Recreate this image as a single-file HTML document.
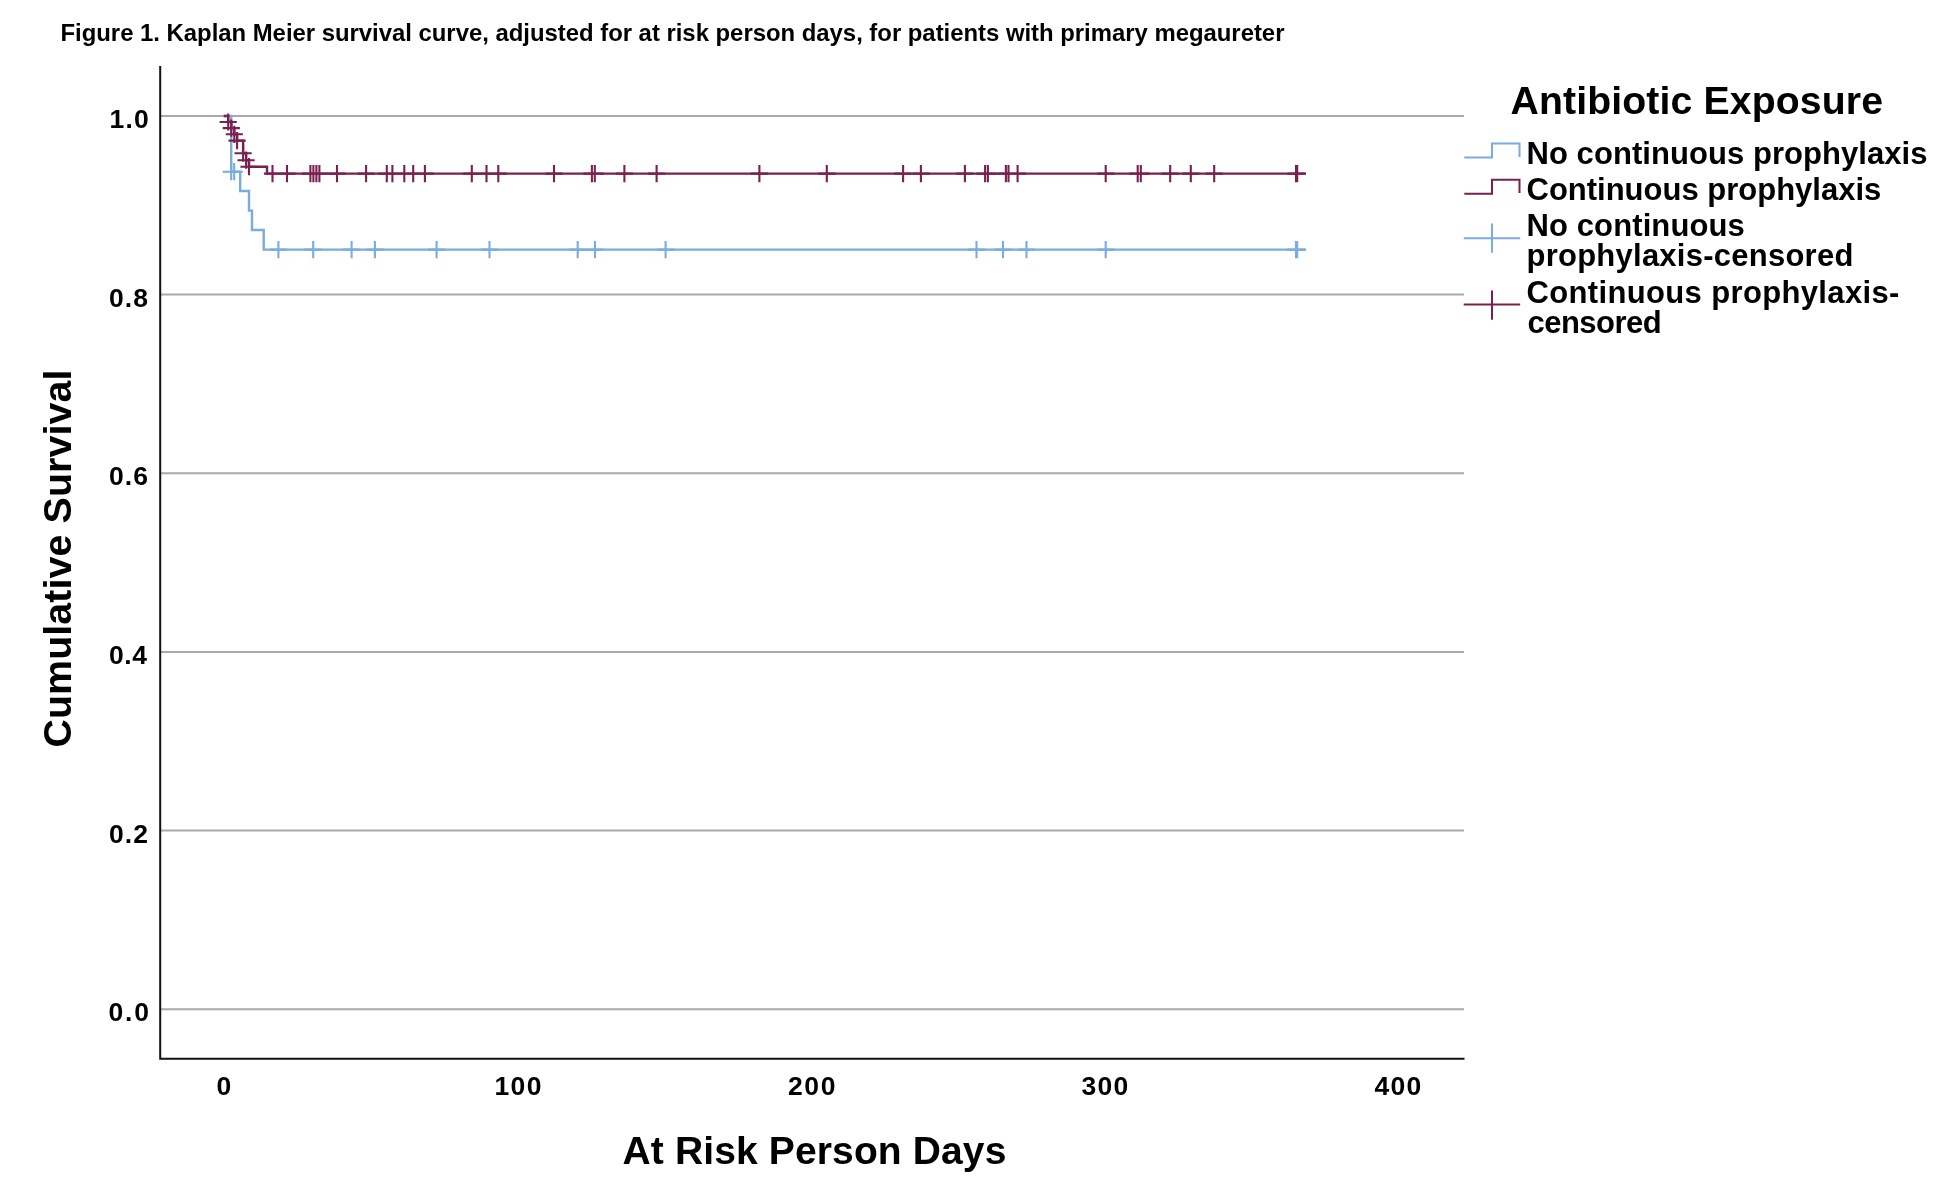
<!DOCTYPE html>
<html><head><meta charset="utf-8"><style>
html,body{margin:0;padding:0;background:#fff;}
body{width:1940px;height:1202px;overflow:hidden;}
svg{display:block;will-change:transform;}
text{font-family:"Liberation Sans",sans-serif;font-weight:bold;fill:#000;}
</style></head><body>
<svg width="1940" height="1202" viewBox="0 0 1940 1202">
<rect width="1940" height="1202" fill="#fff"/>
<g stroke="#a9a9a9" stroke-width="2"><line x1="161" y1="115.9" x2="1464" y2="115.9"/><line x1="161" y1="294.6" x2="1464" y2="294.6"/><line x1="161" y1="473.2" x2="1464" y2="473.2"/><line x1="161" y1="651.9" x2="1464" y2="651.9"/><line x1="161" y1="830.5" x2="1464" y2="830.5"/><line x1="161" y1="1009.2" x2="1464" y2="1009.2"/></g>
<path d="M160.2,66V1058.8H1464.5" fill="none" stroke="#111" stroke-width="2"/>
<g fill="none" stroke-linecap="butt">
<path d="M223.7,116H231.2V171.7H240.2V191H249V210.6H252V230H263.7V249.6H1305.7" stroke="#79acdf" stroke-width="2.4"/>
<path d="M222.6,171.7H239.8M231.2,163.1V180.3M225.6,171.7H242.8M234.2,163.1V180.3M269.8,249.6H287.0M278.4,241.0V258.2M304.6,249.6H321.8M313.2,241.0V258.2M343.0,249.6H360.2M351.6,241.0V258.2M366.3,249.6H383.5M374.9,241.0V258.2M428.0,249.6H445.2M436.6,241.0V258.2M480.9,249.6H498.1M489.5,241.0V258.2M569.1,249.6H586.3M577.7,241.0V258.2M586.4,249.6H603.6M595.0,241.0V258.2M657.0,249.6H674.2M665.6,241.0V258.2M967.9,249.6H985.1M976.5,241.0V258.2M994.4,249.6H1011.6M1003.0,241.0V258.2M1017.9,249.6H1035.1M1026.5,241.0V258.2M1097.1,249.6H1114.3M1105.7,241.0V258.2M1287.4,249.6H1304.6M1296.0,241.0V258.2M1288.6,249.6H1305.8M1297.2,241.0V258.2" stroke="#79acdf" stroke-width="2.1"/>
<path d="M223.7,116H228.2V122H231.3V128.1H234.3V134.3H237.1V140.6H243.1V153.2H246.1V160.2H249V166.7H267V173.6H1305.7" stroke="#7a2051" stroke-width="2.4"/>
<path d="M219.6,122.0H236.8M228.2,113.4V130.6M222.7,128.1H239.9M231.3,119.5V136.7M225.7,134.3H242.9M234.3,125.7V142.9M228.5,140.6H245.7M237.1,132.0V149.2M234.5,153.2H251.7M243.1,144.6V161.8M237.5,160.2H254.7M246.1,151.6V168.8M240.4,166.7H257.6M249.0,158.1V175.3M263.9,173.6H281.1M272.5,165.0V182.2M278.4,173.6H295.6M287.0,165.0V182.2M301.8,173.6H319.0M310.4,165.0V182.2M304.8,173.6H322.0M313.4,165.0V182.2M307.8,173.6H325.0M316.4,165.0V182.2M310.8,173.6H328.0M319.4,165.0V182.2M328.4,173.6H345.6M337.0,165.0V182.2M357.5,173.6H374.7M366.1,165.0V182.2M378.2,173.6H395.4M386.8,165.0V182.2M383.8,173.6H401.0M392.4,165.0V182.2M395.7,173.6H412.9M404.3,165.0V182.2M404.6,173.6H421.8M413.2,165.0V182.2M416.3,173.6H433.5M424.9,165.0V182.2M463.2,173.6H480.4M471.8,165.0V182.2M477.9,173.6H495.1M486.5,165.0V182.2M489.7,173.6H506.9M498.3,165.0V182.2M545.4,173.6H562.6M554.0,165.0V182.2M583.3,173.6H600.5M591.9,165.0V182.2M586.2,173.6H603.4M594.8,165.0V182.2M615.8,173.6H633.0M624.4,165.0V182.2M648.0,173.6H665.2M656.6,165.0V182.2M750.8,173.6H768.0M759.4,165.0V182.2M818.2,173.6H835.4M826.8,165.0V182.2M894.5,173.6H911.7M903.1,165.0V182.2M912.3,173.6H929.5M920.9,165.0V182.2M956.3,173.6H973.5M964.9,165.0V182.2M976.5,173.6H993.7M985.1,165.0V182.2M979.3,173.6H996.5M987.9,165.0V182.2M997.3,173.6H1014.5M1005.9,165.0V182.2M999.9,173.6H1017.1M1008.5,165.0V182.2M1009.0,173.6H1026.2M1017.6,165.0V182.2M1097.1,173.6H1114.3M1105.7,165.0V182.2M1129.1,173.6H1146.3M1137.7,165.0V182.2M1132.2,173.6H1149.4M1140.8,165.0V182.2M1161.6,173.6H1178.8M1170.2,165.0V182.2M1182.2,173.6H1199.4M1190.8,165.0V182.2M1205.6,173.6H1222.8M1214.2,165.0V182.2M1287.4,173.6H1304.6M1296.0,165.0V182.2M1288.6,173.6H1305.8M1297.2,165.0V182.2" stroke="#7a2051" stroke-width="2.1"/>
</g>
<g fill="none" stroke-width="2">
<path d="M1464.3,157.6H1492V143.6H1519.5V157" stroke="#79acdf"/>
<path d="M1464.3,193.7H1492V179.7H1519.5V193" stroke="#7a2051"/>
<path d="M1463.7,238.2H1520.2M1492,223.6V252.8" stroke="#79acdf"/>
<path d="M1463.7,304.6H1520.2M1492,290.6V319.7" stroke="#7a2051"/>
</g>
<text id="title" x="60.50" y="41.00" style="font-size:23.9px" textLength="1223.95" lengthAdjust="spacing">Figure 1. Kaplan Meier survival curve, adjusted for at risk person days, for patients with primary megaureter</text>
<text id="y10" x="109.50" y="127.90" style="font-size:26.5px" textLength="39.24" lengthAdjust="spacing">1.0</text>
<text id="y08" x="109.00" y="306.56" style="font-size:26.5px" textLength="39.09" lengthAdjust="spacing">0.8</text>
<text id="y06" x="109.00" y="485.22" style="font-size:26.5px" textLength="39.09" lengthAdjust="spacing">0.6</text>
<text id="y04" x="109.00" y="663.88" style="font-size:26.5px" textLength="38.09" lengthAdjust="spacing">0.4</text>
<text id="y02" x="109.00" y="842.54" style="font-size:26.5px" textLength="39.09" lengthAdjust="spacing">0.2</text>
<text id="y00" x="108.50" y="1020.70" style="font-size:26.5px" textLength="40.44" lengthAdjust="spacing">0.0</text>
<text id="x0" x="216.50" y="1095.00" style="font-size:26.5px" textLength="17.65" lengthAdjust="spacing">0</text>
<text id="x100" x="494.50" y="1095.00" style="font-size:26.5px" textLength="46.92" lengthAdjust="spacing">100</text>
<text id="x200" x="788.00" y="1095.00" style="font-size:26.5px" textLength="47.47" lengthAdjust="spacing">200</text>
<text id="x300" x="1081.50" y="1095.00" style="font-size:26.5px" textLength="46.82" lengthAdjust="spacing">300</text>
<text id="x400" x="1374.50" y="1095.00" style="font-size:26.5px" textLength="46.82" lengthAdjust="spacing">400</text>
<text id="xtitle" x="622.50" y="1164.00" style="font-size:39px" textLength="383.90" lengthAdjust="spacing">At Risk Person Days</text>
<text id="legtitle" x="1510.50" y="114.00" style="font-size:39.2px" textLength="372.54" lengthAdjust="spacing">Antibiotic Exposure</text>
<text id="l1" x="1526.50" y="163.80" style="font-size:31px" textLength="400.99" lengthAdjust="spacing">No continuous prophylaxis</text>
<text id="l2" x="1526.50" y="199.50" style="font-size:31px" textLength="354.80" lengthAdjust="spacing">Continuous prophylaxis</text>
<text id="l3a" x="1526.50" y="236.40" style="font-size:31px" textLength="218.28" lengthAdjust="spacing">No continuous</text>
<text id="l3b" x="1526.50" y="266.10" style="font-size:31px" textLength="326.86" lengthAdjust="spacing">prophylaxis-censored</text>
<text id="l4a" x="1526.50" y="302.80" style="font-size:31px" textLength="372.93" lengthAdjust="spacing">Continuous prophylaxis-</text>
<text id="l4b" x="1527.50" y="333.10" style="font-size:31px" textLength="134.14" lengthAdjust="spacing">censored</text>
<text id="ytitle" transform="translate(70.80,747.50) rotate(-90)" x="0" y="0" style="font-size:39.3px" textLength="377.86" lengthAdjust="spacing">Cumulative Survival</text>
</svg>
</body></html>
